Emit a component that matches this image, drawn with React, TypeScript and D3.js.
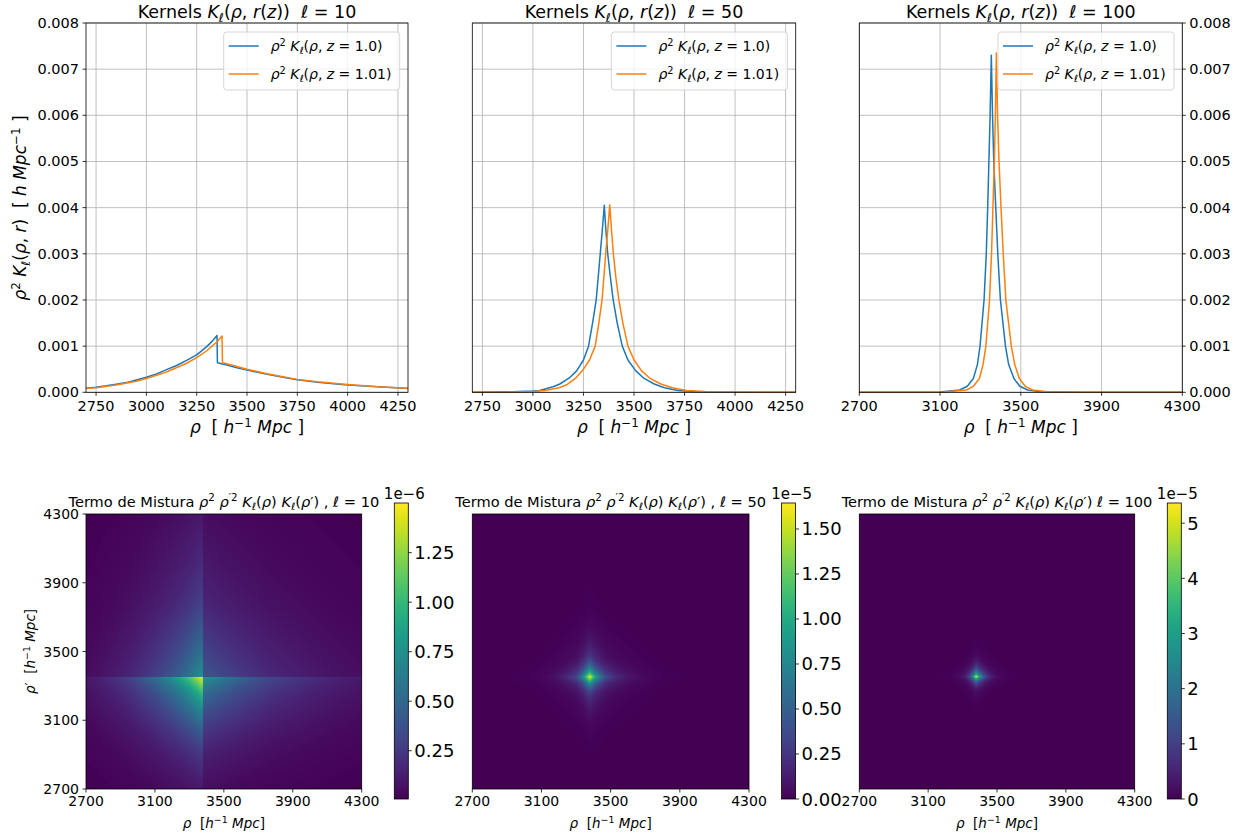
import React, { useMemo } from "react";
import * as d3 from "d3";

const FONT = "DejaVu Sans, Verdana, sans-serif";
const BLUE = "#1f77b4";
const ORANGE = "#ff7f0e";

// ---------- data ----------
// l = 10, z = 1.0
const rho10Blue = [2700, 2750, 2800, 2850, 2900, 2950, 3000, 3050, 3100, 3150, 3200, 3250, 3300, 3330, 3351, 3353, 3400, 3450, 3500, 3600, 3700, 3750, 3850, 4000, 4150, 4300];
const k10Blue = [0.000087, 0.00011, 0.00014, 0.000175, 0.00021, 0.000265, 0.000325, 0.0004, 0.00049, 0.00058, 0.00069, 0.00081, 0.00099, 0.00112, 0.00123, 0.00064, 0.00059, 0.00053, 0.00048, 0.00039, 0.00031, 0.00027, 0.00022, 0.00016, 0.00012, 0.00008];
// l = 10, z = 1.01
const rho10Orange = [2700, 2750, 2850, 2950, 3000, 3100, 3200, 3250, 3300, 3350, 3376, 3378, 3400, 3500, 3600, 3750, 3850, 4000, 4150, 4300];
const k10Orange = [0.00008, 0.0001, 0.00016, 0.00024, 0.0003, 0.00044, 0.00063, 0.00075, 0.0009, 0.00109, 0.00122, 0.00064, 0.00062, 0.0005, 0.0004, 0.00028, 0.00023, 0.00017, 0.00012, 0.000087];

// l = 50
const rho50Blue = [2700, 2900, 3000, 3033, 3100, 3133, 3180, 3217, 3250, 3275, 3295, 3313, 3333, 3343, 3353, 3361, 3370, 3383, 3397, 3417, 3442, 3470, 3508, 3550, 3600, 3650, 3717, 3800, 4000, 4300];
const k50Blue = [0, 0.00001, 0.00003, 0.00004, 0.00012, 0.00018, 0.00031, 0.00047, 0.0007, 0.001, 0.0015, 0.002, 0.003, 0.0035, 0.00405, 0.0035, 0.003, 0.0025, 0.002, 0.0015, 0.001, 0.0007, 0.00047, 0.0003, 0.00018, 0.0001, 0.00004, 0.000015, 0.000003, 0];
const rho50Orange = [2700, 2900, 3000, 3060, 3130, 3170, 3210, 3245, 3280, 3308, 3326, 3342, 3360, 3370, 3380, 3389, 3398, 3410, 3425, 3445, 3470, 3500, 3537, 3580, 3633, 3690, 3760, 3850, 4000, 4300];
const k50Orange = [0, 0.000008, 0.00002, 0.00004, 0.0001, 0.00017, 0.0003, 0.00047, 0.0007, 0.001, 0.0015, 0.002, 0.003, 0.0035, 0.00406, 0.0035, 0.003, 0.0025, 0.002, 0.0015, 0.001, 0.0007, 0.00047, 0.0003, 0.00018, 0.0001, 0.00004, 0.000015, 0.000005, 0];

// l = 100
const rho100Blue = [2700, 3000, 3100, 3197, 3235, 3265, 3285, 3298, 3318, 3329, 3336, 3342, 3348, 3354, 3360, 3366, 3376, 3386, 3399, 3424, 3440, 3466, 3495, 3534, 3600, 3800, 4300];
const k100Blue = [0, 0.000001, 0.000005, 0.00005, 0.00013, 0.0003, 0.0006, 0.001, 0.002, 0.003, 0.004, 0.005, 0.006, 0.0073, 0.006, 0.005, 0.004, 0.003, 0.002, 0.001, 0.0006, 0.0003, 0.00013, 0.00005, 0.00001, 0.000001, 0];
const rho100Orange = [2700, 3000, 3120, 3231, 3265, 3295, 3313, 3327, 3345, 3355, 3362, 3369, 3374, 3379, 3385, 3392, 3402, 3413, 3426, 3453, 3470, 3493, 3522, 3559, 3630, 3800, 4300];
const k100Orange = [0, 0.000001, 0.000005, 0.00005, 0.00013, 0.0003, 0.0006, 0.001, 0.002, 0.003, 0.004, 0.005, 0.006, 0.00735, 0.006, 0.005, 0.004, 0.003, 0.002, 0.001, 0.0006, 0.0003, 0.00013, 0.00005, 0.00001, 0.000001, 0];

const ells = [10, 50, 100];
const xTicksA = [2750, 3000, 3250, 3500, 3750, 4000, 4250];
const xTicksB = [2700, 3100, 3500, 3900, 4300];
const yTicks = [0, 0.001, 0.002, 0.003, 0.004, 0.005, 0.006, 0.007, 0.008];
const heatTicks = [2700, 3100, 3500, 3900, 4300];
const legendZ = ["1.0", "1.01"];
const cbTicks10 = [0.25, 0.5, 0.75, 1.0, 1.25];
const cbTicks50 = [0, 0.25, 0.5, 0.75, 1.0, 1.25, 1.5];
const cbTicks100 = [0, 1, 2, 3, 4, 5];
const cbExp = [-6, -5, -5];
const cbDecimals = [2, 2, 0];

// ---------- layout ----------
const TOP = { y0: 23, y1: 392.3 };
const topX = [
  [86, 408],
  [472.3, 795.7],
  [859.3, 1182.3],
];
const HEAT = { y0: 514, y1: 789 };
const heatX = [
  [86, 361.7],
  [472.3, 749],
  [859.3, 1134.7],
];
const CB = { y0: 503, y1: 799, gap: 32.6, w: 14 };

type Seg = { t: string; i?: boolean; sub?: boolean; sup?: boolean };

function MathText(props: {
  segs: Seg[];
  x: number;
  y: number;
  size: number;
  anchor?: string;
  rotate?: boolean;
}) {
  const { segs, x, y, size, anchor = "start", rotate } = props;
  let cur = 0;
  const spans = segs.map((s, k) => {
    const target = s.sub ? 0.22 * size : s.sup ? -0.38 * size : 0;
    const dy = target - cur;
    cur = target;
    return (
      <tspan
        key={k}
        dy={dy}
        fontStyle={s.i ? "italic" : "normal"}
        fontSize={s.sub || s.sup ? size * 0.7 : size}
      >
        {s.t}
      </tspan>
    );
  });
  return (
    <text
      x={x}
      y={y}
      fontSize={size}
      fontFamily={FONT}
      textAnchor={anchor as any}
      fill="#000"
      transform={rotate ? `rotate(-90 ${x} ${y})` : undefined}
      style={{ whiteSpace: "pre" }}
    >
      {spans}
    </text>
  );
}

const kernelTitle = (ell: number): Seg[] => [
  { t: "Kernels " },
  { t: "K", i: true },
  { t: "ℓ", i: true, sub: true },
  { t: "(" },
  { t: "ρ", i: true },
  { t: ", " },
  { t: "r", i: true },
  { t: "(" },
  { t: "z", i: true },
  { t: "))  " },
  { t: "ℓ", i: true },
  { t: " = " + ell },
];

const legendSegs = (z: string): Seg[] => [
  { t: "ρ", i: true },
  { t: "2", sup: true },
  { t: " " },
  { t: "K", i: true },
  { t: "ℓ", i: true, sub: true },
  { t: "(" },
  { t: "ρ", i: true },
  { t: ", " },
  { t: "z", i: true },
  { t: " = " + z + ")" },
];

const xLabelTop: Seg[] = [
  { t: "ρ", i: true },
  { t: "  [ " },
  { t: "h", i: true },
  { t: "−1", sup: true },
  { t: " " },
  { t: "Mpc", i: true },
  { t: " ]" },
];

const yLabelTop: Seg[] = [
  { t: "ρ", i: true },
  { t: "2", sup: true },
  { t: " " },
  { t: "K", i: true },
  { t: "ℓ", i: true, sub: true },
  { t: "(" },
  { t: "ρ", i: true },
  { t: ", " },
  { t: "r", i: true },
  { t: ")  [ " },
  { t: "h", i: true },
  { t: " " },
  { t: "Mpc", i: true },
  { t: "−1", sup: true },
  { t: " ]" },
];

const heatTitle = (ell: number, comma: boolean): Seg[] => [
  { t: "Termo de Mistura " },
  { t: "ρ", i: true },
  { t: "2", sup: true },
  { t: " " },
  { t: "ρ", i: true },
  { t: "′2", sup: true },
  { t: " " },
  { t: "K", i: true },
  { t: "ℓ", i: true, sub: true },
  { t: "(" },
  { t: "ρ", i: true },
  { t: ") " },
  { t: "K", i: true },
  { t: "ℓ", i: true, sub: true },
  { t: "(" },
  { t: "ρ", i: true },
  { t: "′) " + (comma ? ", " : "") },
  { t: "ℓ", i: true },
  { t: " = " + ell },
];

const heatXLabel: Seg[] = [
  { t: "ρ", i: true },
  { t: "  [" },
  { t: "h", i: true },
  { t: "−1", sup: true },
  { t: " " },
  { t: "Mpc", i: true },
  { t: "]" },
];
const heatYLabel: Seg[] = [
  { t: "ρ", i: true },
  { t: "′" },
  { t: "  [" },
  { t: "h", i: true },
  { t: "−1", sup: true },
  { t: " " },
  { t: "Mpc", i: true },
  { t: "]" },
];

const seriesByEll = [
  [
    [rho10Blue, k10Blue],
    [rho10Orange, k10Orange],
  ],
  [
    [rho50Blue, k50Blue],
    [rho50Orange, k50Orange],
  ],
  [
    [rho100Blue, k100Blue],
    [rho100Orange, k100Orange],
  ],
];
const cbTicksAll = [cbTicks10, cbTicks50, cbTicks100];

function buildHeat(idx: number) {
  const [hx0, hx1] = heatX[idx];
  const W = Math.round(hx1 - hx0);
  const H = Math.round(HEAT.y1 - HEAT.y0);
  const xs = d3.scaleLinear().domain([2700, 4300]).range([0, W]);
  const ys = d3.scaleLinear().domain([2700, 4300]).range([H, 0]);
  const [[rb, kb], [ro, ko]] = seriesByEll[idx] as any;
  const kx = d3.scaleLinear().domain(ro).range(ko).clamp(true);
  const ky = d3.scaleLinear().domain(rb).range(kb).clamp(true);
  const vx = d3.range(W).map((c) => kx(xs.invert(c + 0.5)));
  const vy = d3.range(H).map((r) => ky(ys.invert(r + 0.5)));
  let mn = Infinity,
    mx = -Infinity;
  for (const a of vx) for (const b of vy) {
    const v = a * b;
    if (v < mn) mn = v;
    if (v > mx) mx = v;
  }
  // colour range follows the full data (peak product of the two kernels)
  mx = Math.max(mx, (d3.max(ko as number[]) as number) * (d3.max(kb as number[]) as number));
  mn = Math.min(mn, (d3.min(ko as number[]) as number) * (d3.min(kb as number[]) as number));
  const lut = d3.range(256).map((i) => d3.rgb(d3.interpolateViridis(i / 255)));
  let url = "";
  try {
    const canvas = document.createElement("canvas");
    canvas.width = W;
    canvas.height = H;
    const ctx = canvas.getContext("2d")!;
    const img = ctx.createImageData(W, H);
    for (let r = 0; r < H; r++) {
      for (let c = 0; c < W; c++) {
        const v = vx[c] * vy[r];
        const t = Math.max(0, Math.min(255, Math.round(((v - mn) / (mx - mn)) * 255)));
        const col = lut[t];
        const p = (r * W + c) * 4;
        img.data[p] = col.r;
        img.data[p + 1] = col.g;
        img.data[p + 2] = col.b;
        img.data[p + 3] = 255;
      }
    }
    ctx.putImageData(img, 0, 0);
    url = canvas.toDataURL();
  } catch (e) {
    url = "";
  }
  return { url, W, H, mn, mx };
}

function KernelPanel({ idx }: { idx: number }) {
  const [x0, x1] = topX[idx];
  const x = d3.scaleLinear().domain([2700, 4300]).range([x0, x1]);
  const y = d3.scaleLinear().domain([0, 0.008]).range([TOP.y1, TOP.y0]);
  const xt = idx === 2 ? xTicksB : xTicksA;
  const line = d3
    .line<[number, number]>()
    .x((d) => x(d[0]))
    .y((d) => y(d[1]));
  const ser = seriesByEll[idx];
  const lgX1 = x1 - 8.3;
  const lgX0 = lgX1 - 176;
  const lgY0 = TOP.y0 + 9;
  return (
    <g>
      {xt.map((t) => (
        <line key={"gx" + t} x1={x(t)} x2={x(t)} y1={TOP.y0} y2={TOP.y1} stroke="#b0b0b0" strokeWidth={0.8} />
      ))}
      {yTicks.map((t) => (
        <line key={"gy" + t} x1={x0} x2={x1} y1={y(t)} y2={y(t)} stroke="#b0b0b0" strokeWidth={0.8} />
      ))}
      {ser.map(([r, k], si) => (
        <path
          key={si}
          d={line(r.map((v, i) => [v, k[i]] as [number, number])) || ""}
          fill="none"
          stroke={si === 0 ? BLUE : ORANGE}
          strokeWidth={1.5}
          strokeLinejoin="round"
        />
      ))}
      <rect x={x0} y={TOP.y0} width={x1 - x0} height={TOP.y1 - TOP.y0} fill="none" stroke="#000" strokeWidth={0.8} />
      {xt.map((t) => (
        <g key={"tx" + t}>
          <line x1={x(t)} x2={x(t)} y1={TOP.y1} y2={TOP.y1 + 3.5} stroke="#000" strokeWidth={0.8} />
          <text x={x(t)} y={TOP.y1 + 19} fontSize={14.5} fontFamily={FONT} textAnchor="middle">
            {t}
          </text>
        </g>
      ))}
      {idx !== 1 &&
        yTicks.map((t) => {
          const left = idx === 0;
          const xx = left ? x0 : x1;
          return (
            <g key={"ty" + t}>
              <line x1={xx} x2={left ? xx - 3.5 : xx + 3.5} y1={y(t)} y2={y(t)} stroke="#000" strokeWidth={0.8} />
              <text
                x={left ? xx - 7 : xx + 7}
                y={y(t) + 5}
                fontSize={14.5}
                fontFamily={FONT}
                textAnchor={left ? "end" : "start"}
              >
                {t.toFixed(3)}
              </text>
            </g>
          );
        })}
      <MathText segs={kernelTitle(ells[idx])} x={(x0 + x1) / 2} y={18} size={17.5} anchor="middle" />
      <MathText segs={xLabelTop} x={(x0 + x1) / 2} y={433} size={17} anchor="middle" />
      <rect x={lgX0} y={lgY0} width={176} height={58} rx={3} fill="#fff" fillOpacity={0.8} stroke="#cccccc" strokeWidth={0.8} />
      {legendZ.map((z, i) => (
        <g key={z}>
          <line x1={lgX0 + 5} x2={lgX0 + 35} y1={lgY0 + 14 + i * 28} y2={lgY0 + 14 + i * 28} stroke={i === 0 ? BLUE : ORANGE} strokeWidth={1.5} />
          <MathText segs={legendSegs(z)} x={lgX0 + 47} y={lgY0 + 19 + i * 28} size={14} />
        </g>
      ))}
    </g>
  );
}

function HeatPanel({ idx }: { idx: number }) {
  const [x0, x1] = heatX[idx];
  const heat = useMemo(() => buildHeat(idx), [idx]);
  const x = d3.scaleLinear().domain([2700, 4300]).range([x0, x1]);
  const y = d3.scaleLinear().domain([2700, 4300]).range([HEAT.y1, HEAT.y0]);
  const cbX0 = x1 + CB.gap;
  const cbX1 = cbX0 + CB.w;
  const f = Math.pow(10, cbExp[idx]);
  const cs = d3.scaleLinear().domain([heat.mn, heat.mx]).range([CB.y1, CB.y0]);
  const tol = (heat.mx - heat.mn) * 1e-3;
  const ticks = cbTicksAll[idx].filter((t) => t * f >= heat.mn - tol && t * f <= heat.mx + tol);
  const gid = "vir" + idx;
  const stops = d3.range(0, 1.0001, 0.05);
  return (
    <g>
      <defs>
        <linearGradient id={gid} x1="0" y1="1" x2="0" y2="0">
          {stops.map((s) => (
            <stop key={s} offset={s} stopColor={d3.interpolateViridis(s)} />
          ))}
        </linearGradient>
      </defs>
      {heat.url ? (
        <image href={heat.url} x={x0} y={HEAT.y0} width={x1 - x0} height={HEAT.y1 - HEAT.y0} preserveAspectRatio="none" />
      ) : null}
      <rect x={x0} y={HEAT.y0} width={x1 - x0} height={HEAT.y1 - HEAT.y0} fill="none" stroke="#000" strokeWidth={0.8} />
      {heatTicks.map((t) => (
        <g key={"hx" + t}>
          <line x1={x(t)} x2={x(t)} y1={HEAT.y1} y2={HEAT.y1 + 3.5} stroke="#000" strokeWidth={0.8} />
          <text x={x(t)} y={HEAT.y1 + 17} fontSize={14} fontFamily={FONT} textAnchor="middle">
            {t}
          </text>
        </g>
      ))}
      {idx === 0 &&
        heatTicks.map((t) => (
          <g key={"hy" + t}>
            <line x1={x0} x2={x0 - 3.5} y1={y(t)} y2={y(t)} stroke="#000" strokeWidth={0.8} />
            <text x={x0 - 7} y={y(t) + 5} fontSize={14} fontFamily={FONT} textAnchor="end">
              {t}
            </text>
          </g>
        ))}
      {idx === 0 && <MathText segs={heatYLabel} x={35} y={(HEAT.y0 + HEAT.y1) / 2} size={13.5} anchor="middle" rotate />}
      <MathText segs={heatXLabel} x={(x0 + x1) / 2} y={828} size={13.5} anchor="middle" />
      <MathText segs={heatTitle(ells[idx], idx !== 2)} x={(x0 + x1) / 2} y={506.5} size={14.6} anchor="middle" />
      <rect x={cbX0} y={CB.y0} width={CB.w} height={CB.y1 - CB.y0} fill={`url(#${gid})`} />
      <rect x={cbX0} y={CB.y0} width={CB.w} height={CB.y1 - CB.y0} fill="none" stroke="#000" strokeWidth={0.8} />
      {ticks.map((t) => (
        <g key={"cb" + t}>
          <line x1={cbX1} x2={cbX1 + 3.5} y1={cs(t * f)} y2={cs(t * f)} stroke="#000" strokeWidth={0.8} />
          <text x={cbX1 + 6} y={cs(t * f) + 6.5} fontSize={18} fontFamily={FONT}>
            {t.toFixed(cbDecimals[idx])}
          </text>
        </g>
      ))}
      <text x={cbX1 - 4} y={499} fontSize={15} fontFamily={FONT} textAnchor="middle">
        {`1e−${-cbExp[idx]}`}
      </text>
    </g>
  );
}

export default function App() {
  return (
    <svg
      width={1256}
      height={838}
      viewBox="0 0 1256 838"
      style={{ position: "absolute", left: 0, top: 0, background: "#fff" }}
    >
      <rect x={0} y={0} width={1256} height={838} fill="#fff" />
      {[0, 1, 2].map((i) => (
        <KernelPanel key={"k" + i} idx={i} />
      ))}
      <MathText segs={yLabelTop} x={26} y={208} size={17} anchor="middle" rotate />
      {[0, 1, 2].map((i) => (
        <HeatPanel key={"h" + i} idx={i} />
      ))}
    </svg>
  );
}
